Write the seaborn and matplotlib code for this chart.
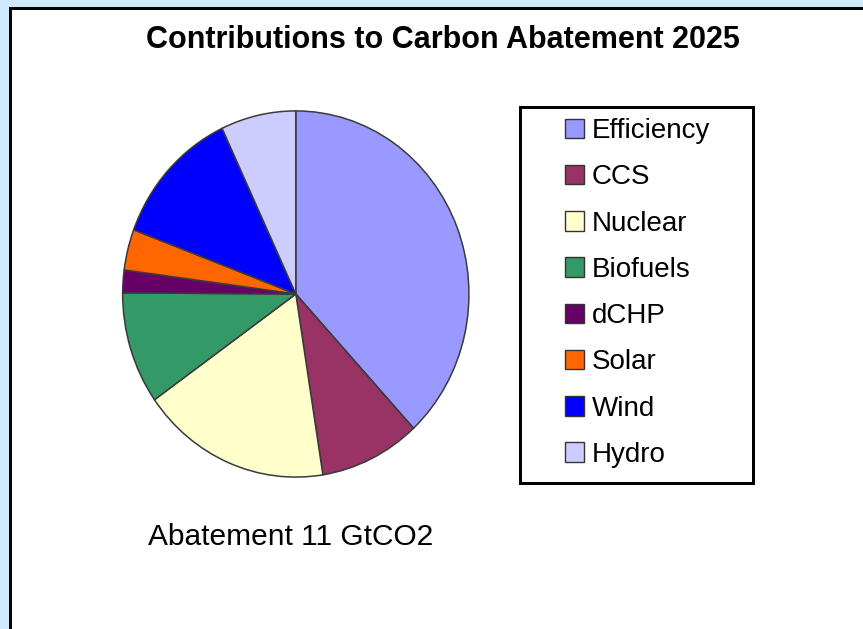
import matplotlib
matplotlib.use("Agg")
import matplotlib.pyplot as plt
from matplotlib.patches import Rectangle, Patch
import seaborn as sns

# ---- data ----
categories = ["Efficiency", "CCS", "Nuclear", "Biofuels", "dCHP", "Solar", "Wind", "Hydro"]
shares = [38.1, 9.4, 17.7, 9.9, 2.0, 3.6, 12.3, 7.0]   # % of abatement
colors = ["#9999FF", "#993366", "#FFFFCC", "#339966", "#660066", "#FF6600", "#0000FF", "#CCCCFF"]
title = "Contributions to Carbon Abatement 2025"
subtitle = "Abatement 11 GtCO2"

sns.set_theme(style="white")
plt.rcParams["font.family"] = ["Liberation Sans", "DejaVu Sans"]
plt.rcParams["text.color"] = "black"
palette = sns.color_palette(colors)

W, H = 863, 629
fig = plt.figure(figsize=(W / 100, H / 100), dpi=100)
fig.patch.set_facecolor("#CFE8FB")

def fx(px):
    return px / W

def fy(py):
    return 1 - py / H

# white panel with black left/top border
panel = Rectangle((fx(9.5), -0.2), 1.5, fy(7.5) + 0.2, transform=fig.transFigure,
                  facecolor="white", edgecolor="black", linewidth=2.16, zorder=-5)
fig.patches.append(panel)

# pie axes (slightly elliptical as in reference)
cx, cy, rx, ry = 295.8, 294, 174, 184
ax = fig.add_axes([fx(cx - rx), fy(cy + ry), (2 * rx) / W, (2 * ry) / H])
ax.set_zorder(1)
wedges, _ = ax.pie(shares, colors=palette, startangle=90, counterclock=False,
                   wedgeprops=dict(edgecolor="#3a3a3a", linewidth=1.1), radius=1)
ax.set_aspect("auto")
ax.set_xlim(-1.005, 1.005)
ax.set_ylim(-1.005, 1.005)
ax.axis("off")

# title and subtitle
fig.text(fx(442.5), fy(48), title, ha="center", va="baseline", fontsize=22,
         fontweight="bold", color="black")
fig.text(fx(290.5), fy(545), subtitle, ha="center", va="baseline", fontsize=21.5,
         color="black")

# legend box
box = Rectangle((fx(519.5), fy(482.5)), (752.5 - 519.5) / W, (482.5 - 106.5) / H,
                transform=fig.transFigure, facecolor="white", edgecolor="black",
                linewidth=2.16, zorder=1)
fig.patches.append(box)

handles = [Patch(facecolor=c, edgecolor="#333333", linewidth=1.0) for c in palette]
leg = fig.legend(handles, categories, loc="upper left", bbox_to_anchor=(fx(565), fy(118)),
                 frameon=False, fontsize=20, handlelength=0.7, handleheight=0.7,
                 handletextpad=0.25, labelspacing=0.73, borderpad=0, borderaxespad=0,
                 labelcolor="black")
leg.set_zorder(2)

fig.savefig("out.png", dpi=100, facecolor=fig.get_facecolor())
